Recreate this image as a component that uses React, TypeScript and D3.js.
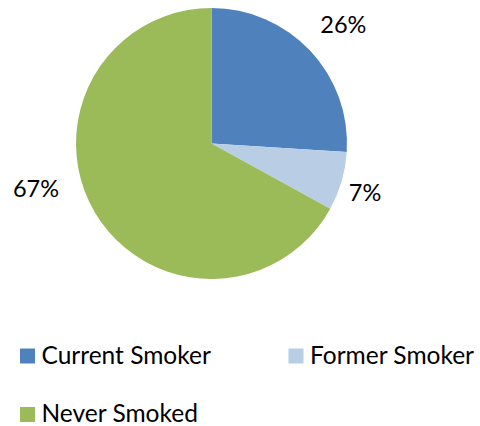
import React from "react";
import * as d3 from "d3";

const categories = ["Current Smoker", "Former Smoker", "Never Smoked"];
const values = [26, 7, 67];
const labels = ["26%", "7%", "67%"];
const colors = ["#4F81BD", "#B9CDE5", "#9BBB59"];

const W = 480;
const H = 426;
const cx = 211.5;
const cy = 143.5;
const R = 135.5;
const FONT = "Lato, 'Open Sans', sans-serif";

// label placement: angle (deg offset from slice mid) and distance from center
const labelLayout = [
  { shift: 1, r: 178 },
  { shift: 1.3, r: 161 },
  { shift: 16.4, r: 181 },
];

export default function App() {
  const pie = d3.pie<number>().sort(null).value((d) => d)(values);
  const arc = d3.arc<d3.PieArcDatum<number>>().innerRadius(0).outerRadius(R);

  return (
    <svg width={W} height={H} style={{ position: "absolute", left: 0, top: 0 }}>
      <g transform={`translate(${cx},${cy})`}>
        {pie.map((p, i) => (
          <path key={i} d={arc(p) || ""} fill={colors[i]} />
        ))}
        {pie.map((p, i) => {
          const mid = (p.startAngle + p.endAngle) / 2 + (labelLayout[i].shift * Math.PI) / 180;
          const x = Math.sin(mid) * labelLayout[i].r;
          const y = -Math.cos(mid) * labelLayout[i].r;
          return (
            <text
              key={i}
              x={x}
              y={y}
              textAnchor="middle"
              dominantBaseline="central"
              fontFamily={FONT}
              fontSize={23.5}
              fill="#000"
            >
              {labels[i]}
            </text>
          );
        })}
      </g>
      <g fontFamily={FONT} fontSize={24.5} fill="#000">
        {categories.map((c, i) => {
          const col = i % 2;
          const row = Math.floor(i / 2);
          const x = 20 + col * 268.5;
          const y = 348.5 + row * 58.5;
          return (
            <g key={c} transform={`translate(${x},${y})`}>
              <rect width={15} height={15} fill={colors[i]} />
              <text x={21.5} y={15} fill="#000">
                {c}
              </text>
            </g>
          );
        })}
      </g>
    </svg>
  );
}
